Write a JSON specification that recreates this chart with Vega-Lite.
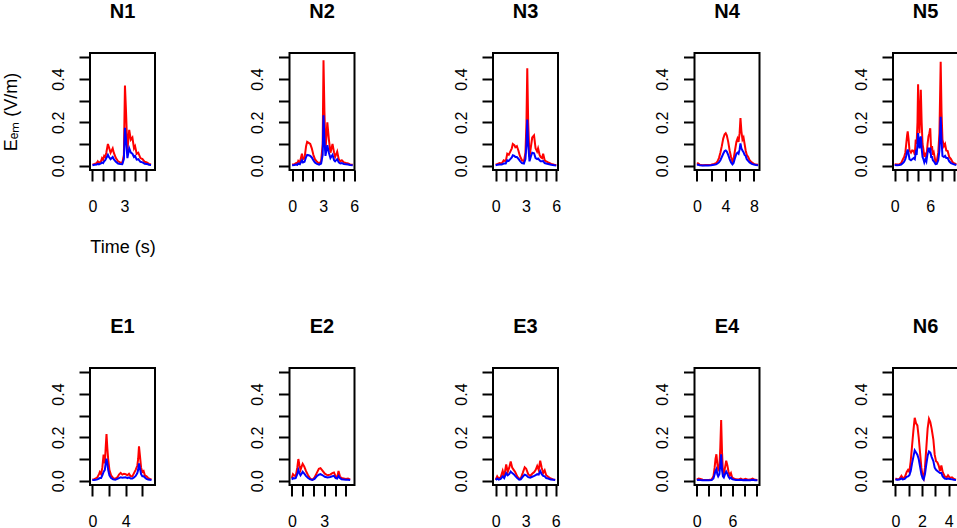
{
"$schema":"https://vega.github.io/schema/vega-lite/v6.json",
"padding":{"left":1,"top":0,"right":0,"bottom":0},
"background":"white",
"datasets":{"d":[
{"p":"N1","t":0,"r":0.005,"b":0.002},{"p":"N1","t":0.2,"r":0.008,"b":0.004},{"p":"N1","t":0.4,"r":0.012,"b":0.005},{"p":"N1","t":0.5,"r":0.02,"b":0.008},{"p":"N1","t":0.6,"r":0.012,"b":0.006},{"p":"N1","t":0.8,"r":0.02,"b":0.01},{"p":"N1","t":0.9,"r":0.035,"b":0.015},{"p":"N1","t":1.0,"r":0.028,"b":0.012},{"p":"N1","t":1.1,"r":0.045,"b":0.02},{"p":"N1","t":1.2,"r":0.04,"b":0.025},{"p":"N1","t":1.3,"r":0.06,"b":0.035},{"p":"N1","t":1.45,"r":0.1,"b":0.05},{"p":"N1","t":1.55,"r":0.085,"b":0.04},{"p":"N1","t":1.7,"r":0.06,"b":0.03},{"p":"N1","t":1.9,"r":0.08,"b":0.04},{"p":"N1","t":2.0,"r":0.06,"b":0.03},{"p":"N1","t":2.2,"r":0.035,"b":0.018},{"p":"N1","t":2.4,"r":0.02,"b":0.01},{"p":"N1","t":2.6,"r":0.015,"b":0.008},{"p":"N1","t":2.8,"r":0.012,"b":0.007},{"p":"N1","t":2.95,"r":0.05,"b":0.03},{"p":"N1","t":3.05,"r":0.37,"b":0.175},{"p":"N1","t":3.15,"r":0.25,"b":0.12},{"p":"N1","t":3.28,"r":0.07,"b":0.035},{"p":"N1","t":3.45,"r":0.165,"b":0.08},{"p":"N1","t":3.6,"r":0.12,"b":0.06},{"p":"N1","t":3.75,"r":0.13,"b":0.055},{"p":"N1","t":3.9,"r":0.08,"b":0.04},{"p":"N1","t":4.0,"r":0.09,"b":0.045},{"p":"N1","t":4.15,"r":0.055,"b":0.028},{"p":"N1","t":4.3,"r":0.06,"b":0.03},{"p":"N1","t":4.5,"r":0.035,"b":0.018},{"p":"N1","t":4.7,"r":0.03,"b":0.015},{"p":"N1","t":4.9,"r":0.018,"b":0.009},{"p":"N1","t":5.1,"r":0.015,"b":0.008},{"p":"N1","t":5.3,"r":0.008,"b":0.004},{"p":"N1","t":5.5,"r":0.006,"b":0.003},
{"p":"N2","t":0,"r":0.005,"b":0.002},{"p":"N2","t":0.2,"r":0.006,"b":0.003},{"p":"N2","t":0.4,"r":0.012,"b":0.005},{"p":"N2","t":0.5,"r":0.008,"b":0.004},{"p":"N2","t":0.6,"r":0.022,"b":0.01},{"p":"N2","t":0.75,"r":0.015,"b":0.007},{"p":"N2","t":0.95,"r":0.055,"b":0.025},{"p":"N2","t":1.05,"r":0.03,"b":0.015},{"p":"N2","t":1.2,"r":0.035,"b":0.018},{"p":"N2","t":1.35,"r":0.09,"b":0.04},{"p":"N2","t":1.45,"r":0.11,"b":0.05},{"p":"N2","t":1.6,"r":0.105,"b":0.048},{"p":"N2","t":1.75,"r":0.1,"b":0.045},{"p":"N2","t":1.9,"r":0.08,"b":0.038},{"p":"N2","t":2.05,"r":0.05,"b":0.025},{"p":"N2","t":2.2,"r":0.03,"b":0.015},{"p":"N2","t":2.4,"r":0.018,"b":0.008},{"p":"N2","t":2.6,"r":0.01,"b":0.005},{"p":"N2","t":2.8,"r":0.02,"b":0.01},{"p":"N2","t":2.95,"r":0.1,"b":0.05},{"p":"N2","t":3.03,"r":0.487,"b":0.233},{"p":"N2","t":3.12,"r":0.25,"b":0.12},{"p":"N2","t":3.22,"r":0.07,"b":0.045},{"p":"N2","t":3.4,"r":0.2,"b":0.095},{"p":"N2","t":3.55,"r":0.12,"b":0.06},{"p":"N2","t":3.7,"r":0.06,"b":0.035},{"p":"N2","t":3.9,"r":0.1,"b":0.05},{"p":"N2","t":4.05,"r":0.06,"b":0.025},{"p":"N2","t":4.15,"r":0.04,"b":0.02},{"p":"N2","t":4.35,"r":0.065,"b":0.03},{"p":"N2","t":4.5,"r":0.03,"b":0.015},{"p":"N2","t":4.65,"r":0.02,"b":0.01},{"p":"N2","t":4.8,"r":0.025,"b":0.012},{"p":"N2","t":5.0,"r":0.015,"b":0.008},{"p":"N2","t":5.2,"r":0.012,"b":0.006},{"p":"N2","t":5.4,"r":0.01,"b":0.005},{"p":"N2","t":5.6,"r":0.006,"b":0.003},{"p":"N2","t":5.85,"r":0.004,"b":0.002},
{"p":"N3","t":0,"r":0.005,"b":0.002},{"p":"N3","t":0.2,"r":0.008,"b":0.004},{"p":"N3","t":0.4,"r":0.012,"b":0.005},{"p":"N3","t":0.6,"r":0.01,"b":0.005},{"p":"N3","t":0.8,"r":0.025,"b":0.01},{"p":"N3","t":1.0,"r":0.02,"b":0.01},{"p":"N3","t":1.15,"r":0.055,"b":0.025},{"p":"N3","t":1.3,"r":0.05,"b":0.022},{"p":"N3","t":1.45,"r":0.065,"b":0.03},{"p":"N3","t":1.6,"r":0.08,"b":0.038},{"p":"N3","t":1.7,"r":0.1,"b":0.048},{"p":"N3","t":1.85,"r":0.095,"b":0.045},{"p":"N3","t":1.95,"r":0.085,"b":0.04},{"p":"N3","t":2.1,"r":0.09,"b":0.04},{"p":"N3","t":2.25,"r":0.07,"b":0.032},{"p":"N3","t":2.4,"r":0.045,"b":0.022},{"p":"N3","t":2.6,"r":0.025,"b":0.012},{"p":"N3","t":2.8,"r":0.02,"b":0.01},{"p":"N3","t":2.95,"r":0.06,"b":0.03},{"p":"N3","t":3.05,"r":0.2,"b":0.1},{"p":"N3","t":3.13,"r":0.45,"b":0.213},{"p":"N3","t":3.22,"r":0.2,"b":0.1},{"p":"N3","t":3.35,"r":0.04,"b":0.02},{"p":"N3","t":3.5,"r":0.09,"b":0.045},{"p":"N3","t":3.62,"r":0.13,"b":0.06},{"p":"N3","t":3.8,"r":0.14,"b":0.057},{"p":"N3","t":3.95,"r":0.08,"b":0.035},{"p":"N3","t":4.1,"r":0.065,"b":0.03},{"p":"N3","t":4.2,"r":0.08,"b":0.033},{"p":"N3","t":4.35,"r":0.05,"b":0.025},{"p":"N3","t":4.45,"r":0.04,"b":0.02},{"p":"N3","t":4.6,"r":0.035,"b":0.02},{"p":"N3","t":4.7,"r":0.055,"b":0.022},{"p":"N3","t":4.85,"r":0.025,"b":0.012},{"p":"N3","t":5.0,"r":0.02,"b":0.01},{"p":"N3","t":5.2,"r":0.015,"b":0.008},{"p":"N3","t":5.5,"r":0.008,"b":0.004},{"p":"N3","t":5.8,"r":0.004,"b":0.002},{"p":"N3","t":6.0,"r":0.003,"b":0.001},
{"p":"N4","t":0,"r":0.011,"b":0.004},{"p":"N4","t":0.2,"r":0.01,"b":0.004},{"p":"N4","t":0.4,"r":0.004,"b":0.002},{"p":"N4","t":0.8,"r":0.002,"b":0.001},{"p":"N4","t":1.2,"r":0.003,"b":0.001},{"p":"N4","t":1.6,"r":0.003,"b":0.001},{"p":"N4","t":2.0,"r":0.004,"b":0.002},{"p":"N4","t":2.4,"r":0.008,"b":0.004},{"p":"N4","t":2.7,"r":0.012,"b":0.006},{"p":"N4","t":2.9,"r":0.02,"b":0.01},{"p":"N4","t":3.1,"r":0.035,"b":0.015},{"p":"N4","t":3.3,"r":0.06,"b":0.025},{"p":"N4","t":3.5,"r":0.09,"b":0.04},{"p":"N4","t":3.7,"r":0.125,"b":0.055},{"p":"N4","t":3.9,"r":0.145,"b":0.068},{"p":"N4","t":4.05,"r":0.15,"b":0.07},{"p":"N4","t":4.2,"r":0.14,"b":0.065},{"p":"N4","t":4.4,"r":0.11,"b":0.05},{"p":"N4","t":4.6,"r":0.07,"b":0.03},{"p":"N4","t":4.8,"r":0.04,"b":0.015},{"p":"N4","t":5.0,"r":0.02,"b":0.006},{"p":"N4","t":5.15,"r":0.03,"b":0.012},{"p":"N4","t":5.35,"r":0.07,"b":0.035},{"p":"N4","t":5.55,"r":0.11,"b":0.055},{"p":"N4","t":5.7,"r":0.125,"b":0.06},{"p":"N4","t":5.85,"r":0.11,"b":0.055},{"p":"N4","t":6.0,"r":0.15,"b":0.075},{"p":"N4","t":6.12,"r":0.22,"b":0.103},{"p":"N4","t":6.25,"r":0.16,"b":0.08},{"p":"N4","t":6.4,"r":0.12,"b":0.07},{"p":"N4","t":6.55,"r":0.13,"b":0.062},{"p":"N4","t":6.7,"r":0.1,"b":0.05},{"p":"N4","t":6.85,"r":0.07,"b":0.045},{"p":"N4","t":7.0,"r":0.05,"b":0.03},{"p":"N4","t":7.2,"r":0.04,"b":0.022},{"p":"N4","t":7.4,"r":0.025,"b":0.015},{"p":"N4","t":7.7,"r":0.015,"b":0.008},{"p":"N4","t":8.0,"r":0.008,"b":0.005},{"p":"N4","t":8.3,"r":0.005,"b":0.003},{"p":"N4","t":8.6,"r":0.004,"b":0.002},
{"p":"N5","t":0,"r":0.006,"b":0.003},{"p":"N5","t":0.4,"r":0.005,"b":0.002},{"p":"N5","t":0.8,"r":0.006,"b":0.003},{"p":"N5","t":1.1,"r":0.012,"b":0.005},{"p":"N5","t":1.4,"r":0.03,"b":0.012},{"p":"N5","t":1.6,"r":0.04,"b":0.018},{"p":"N5","t":1.8,"r":0.06,"b":0.03},{"p":"N5","t":1.95,"r":0.1,"b":0.045},{"p":"N5","t":2.1,"r":0.14,"b":0.065},{"p":"N5","t":2.2,"r":0.158,"b":0.075},{"p":"N5","t":2.35,"r":0.12,"b":0.055},{"p":"N5","t":2.5,"r":0.07,"b":0.03},{"p":"N5","t":2.75,"r":0.06,"b":0.025},{"p":"N5","t":2.95,"r":0.07,"b":0.03},{"p":"N5","t":3.2,"r":0.068,"b":0.035},{"p":"N5","t":3.4,"r":0.05,"b":0.03},{"p":"N5","t":3.55,"r":0.12,"b":0.06},{"p":"N5","t":3.7,"r":0.1,"b":0.05},{"p":"N5","t":3.85,"r":0.2,"b":0.1},{"p":"N5","t":3.95,"r":0.376,"b":0.15},{"p":"N5","t":4.05,"r":0.25,"b":0.12},{"p":"N5","t":4.18,"r":0.15,"b":0.08},{"p":"N5","t":4.3,"r":0.25,"b":0.12},{"p":"N5","t":4.41,"r":0.35,"b":0.135},{"p":"N5","t":4.55,"r":0.2,"b":0.08},{"p":"N5","t":4.7,"r":0.1,"b":0.04},{"p":"N5","t":4.85,"r":0.075,"b":0.03},{"p":"N5","t":5.0,"r":0.04,"b":0.015},{"p":"N5","t":5.2,"r":0.06,"b":0.03},{"p":"N5","t":5.35,"r":0.04,"b":0.02},{"p":"N5","t":5.55,"r":0.1,"b":0.06},{"p":"N5","t":5.7,"r":0.135,"b":0.083},{"p":"N5","t":5.85,"r":0.15,"b":0.07},{"p":"N5","t":6.0,"r":0.173,"b":0.083},{"p":"N5","t":6.15,"r":0.07,"b":0.04},{"p":"N5","t":6.3,"r":0.09,"b":0.04},{"p":"N5","t":6.45,"r":0.05,"b":0.025},{"p":"N5","t":6.6,"r":0.06,"b":0.02},{"p":"N5","t":6.9,"r":0.015,"b":0.007},{"p":"N5","t":7.1,"r":0.02,"b":0.008},{"p":"N5","t":7.35,"r":0.06,"b":0.025},{"p":"N5","t":7.55,"r":0.15,"b":0.07},{"p":"N5","t":7.76,"r":0.48,"b":0.226},{"p":"N5","t":7.9,"r":0.25,"b":0.12},{"p":"N5","t":8.06,"r":0.12,"b":0.045},{"p":"N5","t":8.3,"r":0.09,"b":0.04},{"p":"N5","t":8.5,"r":0.1,"b":0.045},{"p":"N5","t":8.7,"r":0.07,"b":0.035},{"p":"N5","t":8.94,"r":0.068,"b":0.035},{"p":"N5","t":9.2,"r":0.04,"b":0.02},{"p":"N5","t":9.5,"r":0.03,"b":0.012},{"p":"N5","t":9.8,"r":0.015,"b":0.008},{"p":"N5","t":10.1,"r":0.01,"b":0.005},{"p":"N5","t":10.4,"r":0.006,"b":0.003},
{"p":"E1","t":0,"r":0.005,"b":0.003},{"p":"E1","t":0.2,"r":0.006,"b":0.003},{"p":"E1","t":0.4,"r":0.01,"b":0.004},{"p":"E1","t":0.6,"r":0.015,"b":0.006},{"p":"E1","t":0.8,"r":0.03,"b":0.01},{"p":"E1","t":0.9,"r":0.04,"b":0.012},{"p":"E1","t":1.05,"r":0.03,"b":0.012},{"p":"E1","t":1.2,"r":0.06,"b":0.025},{"p":"E1","t":1.35,"r":0.12,"b":0.04},{"p":"E1","t":1.5,"r":0.08,"b":0.05},{"p":"E1","t":1.6,"r":0.15,"b":0.08},{"p":"E1","t":1.7,"r":0.215,"b":0.102},{"p":"E1","t":1.8,"r":0.15,"b":0.08},{"p":"E1","t":1.9,"r":0.1,"b":0.05},{"p":"E1","t":2.05,"r":0.05,"b":0.025},{"p":"E1","t":2.25,"r":0.025,"b":0.012},{"p":"E1","t":2.5,"r":0.012,"b":0.006},{"p":"E1","t":2.75,"r":0.008,"b":0.004},{"p":"E1","t":3.0,"r":0.015,"b":0.008},{"p":"E1","t":3.2,"r":0.028,"b":0.012},{"p":"E1","t":3.4,"r":0.036,"b":0.016},{"p":"E1","t":3.6,"r":0.028,"b":0.014},{"p":"E1","t":3.8,"r":0.032,"b":0.015},{"p":"E1","t":4.0,"r":0.03,"b":0.016},{"p":"E1","t":4.2,"r":0.025,"b":0.012},{"p":"E1","t":4.4,"r":0.032,"b":0.015},{"p":"E1","t":4.6,"r":0.02,"b":0.01},{"p":"E1","t":4.8,"r":0.02,"b":0.01},{"p":"E1","t":5.0,"r":0.035,"b":0.015},{"p":"E1","t":5.2,"r":0.05,"b":0.022},{"p":"E1","t":5.4,"r":0.07,"b":0.035},{"p":"E1","t":5.5,"r":0.1,"b":0.05},{"p":"E1","t":5.6,"r":0.158,"b":0.08},{"p":"E1","t":5.7,"r":0.12,"b":0.06},{"p":"E1","t":5.85,"r":0.06,"b":0.03},{"p":"E1","t":6.0,"r":0.04,"b":0.02},{"p":"E1","t":6.15,"r":0.045,"b":0.02},{"p":"E1","t":6.3,"r":0.025,"b":0.015},{"p":"E1","t":6.5,"r":0.02,"b":0.008},{"p":"E1","t":6.7,"r":0.012,"b":0.005},{"p":"E1","t":6.9,"r":0.008,"b":0.004},{"p":"E1","t":7.1,"r":0.006,"b":0.003},
{"p":"E2","t":0,"r":0.012,"b":0.005},{"p":"E2","t":0.1,"r":0.03,"b":0.012},{"p":"E2","t":0.2,"r":0.025,"b":0.01},{"p":"E2","t":0.35,"r":0.02,"b":0.012},{"p":"E2","t":0.5,"r":0.06,"b":0.03},{"p":"E2","t":0.6,"r":0.1,"b":0.05},{"p":"E2","t":0.7,"r":0.07,"b":0.035},{"p":"E2","t":0.8,"r":0.05,"b":0.025},{"p":"E2","t":0.9,"r":0.065,"b":0.032},{"p":"E2","t":1.0,"r":0.078,"b":0.041},{"p":"E2","t":1.15,"r":0.065,"b":0.032},{"p":"E2","t":1.3,"r":0.045,"b":0.022},{"p":"E2","t":1.5,"r":0.025,"b":0.012},{"p":"E2","t":1.7,"r":0.01,"b":0.006},{"p":"E2","t":1.9,"r":0.004,"b":0.003},{"p":"E2","t":2.1,"r":0.015,"b":0.008},{"p":"E2","t":2.3,"r":0.035,"b":0.02},{"p":"E2","t":2.5,"r":0.055,"b":0.028},{"p":"E2","t":2.65,"r":0.058,"b":0.03},{"p":"E2","t":2.85,"r":0.045,"b":0.025},{"p":"E2","t":3.05,"r":0.032,"b":0.018},{"p":"E2","t":3.3,"r":0.025,"b":0.015},{"p":"E2","t":3.55,"r":0.028,"b":0.017},{"p":"E2","t":3.75,"r":0.035,"b":0.02},{"p":"E2","t":3.9,"r":0.038,"b":0.022},{"p":"E2","t":4.05,"r":0.02,"b":0.012},{"p":"E2","t":4.2,"r":0.015,"b":0.01},{"p":"E2","t":4.32,"r":0.045,"b":0.022},{"p":"E2","t":4.45,"r":0.02,"b":0.012},{"p":"E2","t":4.6,"r":0.012,"b":0.006},{"p":"E2","t":4.8,"r":0.01,"b":0.005},{"p":"E2","t":5.0,"r":0.008,"b":0.004},{"p":"E2","t":5.2,"r":0.01,"b":0.004},{"p":"E2","t":5.4,"r":0.005,"b":0.003},
{"p":"E3","t":0,"r":0.005,"b":0.003},{"p":"E3","t":0.15,"r":0.02,"b":0.01},{"p":"E3","t":0.3,"r":0.01,"b":0.005},{"p":"E3","t":0.5,"r":0.015,"b":0.008},{"p":"E3","t":0.7,"r":0.045,"b":0.02},{"p":"E3","t":0.85,"r":0.02,"b":0.012},{"p":"E3","t":1.05,"r":0.075,"b":0.035},{"p":"E3","t":1.2,"r":0.04,"b":0.025},{"p":"E3","t":1.35,"r":0.06,"b":0.03},{"p":"E3","t":1.5,"r":0.088,"b":0.042},{"p":"E3","t":1.65,"r":0.06,"b":0.035},{"p":"E3","t":1.8,"r":0.05,"b":0.03},{"p":"E3","t":1.95,"r":0.04,"b":0.022},{"p":"E3","t":2.15,"r":0.02,"b":0.012},{"p":"E3","t":2.35,"r":0.008,"b":0.005},{"p":"E3","t":2.5,"r":0.01,"b":0.006},{"p":"E3","t":2.7,"r":0.035,"b":0.018},{"p":"E3","t":2.9,"r":0.062,"b":0.028},{"p":"E3","t":3.05,"r":0.055,"b":0.025},{"p":"E3","t":3.25,"r":0.03,"b":0.016},{"p":"E3","t":3.45,"r":0.022,"b":0.014},{"p":"E3","t":3.65,"r":0.032,"b":0.018},{"p":"E3","t":3.85,"r":0.04,"b":0.022},{"p":"E3","t":4.0,"r":0.05,"b":0.026},{"p":"E3","t":4.15,"r":0.068,"b":0.03},{"p":"E3","t":4.3,"r":0.05,"b":0.028},{"p":"E3","t":4.45,"r":0.092,"b":0.045},{"p":"E3","t":4.6,"r":0.06,"b":0.03},{"p":"E3","t":4.75,"r":0.035,"b":0.022},{"p":"E3","t":4.9,"r":0.048,"b":0.02},{"p":"E3","t":5.05,"r":0.025,"b":0.012},{"p":"E3","t":5.25,"r":0.018,"b":0.01},{"p":"E3","t":5.5,"r":0.01,"b":0.005},{"p":"E3","t":5.75,"r":0.006,"b":0.004},{"p":"E3","t":5.95,"r":0.004,"b":0.003},
{"p":"E4","t":0,"r":0.005,"b":0.003},{"p":"E4","t":0.3,"r":0.01,"b":0.004},{"p":"E4","t":0.6,"r":0.008,"b":0.003},{"p":"E4","t":1.0,"r":0.004,"b":0.002},{"p":"E4","t":1.5,"r":0.003,"b":0.002},{"p":"E4","t":2.0,"r":0.003,"b":0.002},{"p":"E4","t":2.5,"r":0.005,"b":0.003},{"p":"E4","t":2.8,"r":0.02,"b":0.01},{"p":"E4","t":3.0,"r":0.06,"b":0.03},{"p":"E4","t":3.15,"r":0.1,"b":0.045},{"p":"E4","t":3.3,"r":0.122,"b":0.053},{"p":"E4","t":3.45,"r":0.08,"b":0.03},{"p":"E4","t":3.6,"r":0.05,"b":0.02},{"p":"E4","t":3.8,"r":0.06,"b":0.03},{"p":"E4","t":3.95,"r":0.15,"b":0.07},{"p":"E4","t":4.1,"r":0.28,"b":0.122},{"p":"E4","t":4.25,"r":0.13,"b":0.05},{"p":"E4","t":4.4,"r":0.04,"b":0.02},{"p":"E4","t":4.55,"r":0.03,"b":0.015},{"p":"E4","t":4.75,"r":0.06,"b":0.03},{"p":"E4","t":4.95,"r":0.092,"b":0.042},{"p":"E4","t":5.15,"r":0.07,"b":0.032},{"p":"E4","t":5.35,"r":0.04,"b":0.018},{"p":"E4","t":5.55,"r":0.025,"b":0.01},{"p":"E4","t":5.75,"r":0.035,"b":0.015},{"p":"E4","t":5.95,"r":0.015,"b":0.007},{"p":"E4","t":6.2,"r":0.01,"b":0.005},{"p":"E4","t":6.6,"r":0.006,"b":0.003},{"p":"E4","t":7.0,"r":0.005,"b":0.003},{"p":"E4","t":7.4,"r":0.01,"b":0.004},{"p":"E4","t":7.8,"r":0.004,"b":0.002},{"p":"E4","t":8.2,"r":0.008,"b":0.003},{"p":"E4","t":8.6,"r":0.004,"b":0.002},{"p":"E4","t":9.0,"r":0.005,"b":0.002},{"p":"E4","t":9.4,"r":0.01,"b":0.004},{"p":"E4","t":9.8,"r":0.004,"b":0.002},{"p":"E4","t":10.2,"r":0.003,"b":0.002},
{"p":"N6","t":0,"r":0.01,"b":0.005},{"p":"N6","t":0.15,"r":0.006,"b":0.004},{"p":"N6","t":0.3,"r":0.008,"b":0.005},{"p":"N6","t":0.45,"r":0.022,"b":0.01},{"p":"N6","t":0.55,"r":0.012,"b":0.006},{"p":"N6","t":0.7,"r":0.015,"b":0.008},{"p":"N6","t":0.85,"r":0.04,"b":0.018},{"p":"N6","t":0.95,"r":0.05,"b":0.02},{"p":"N6","t":1.05,"r":0.04,"b":0.025},{"p":"N6","t":1.15,"r":0.09,"b":0.045},{"p":"N6","t":1.25,"r":0.16,"b":0.08},{"p":"N6","t":1.35,"r":0.23,"b":0.11},{"p":"N6","t":1.45,"r":0.29,"b":0.14},{"p":"N6","t":1.55,"r":0.265,"b":0.13},{"p":"N6","t":1.65,"r":0.255,"b":0.12},{"p":"N6","t":1.75,"r":0.2,"b":0.1},{"p":"N6","t":1.85,"r":0.13,"b":0.065},{"p":"N6","t":1.95,"r":0.06,"b":0.03},{"p":"N6","t":2.05,"r":0.02,"b":0.01},{"p":"N6","t":2.12,"r":0.01,"b":0.005},{"p":"N6","t":2.22,"r":0.06,"b":0.03},{"p":"N6","t":2.32,"r":0.15,"b":0.075},{"p":"N6","t":2.42,"r":0.24,"b":0.115},{"p":"N6","t":2.52,"r":0.285,"b":0.135},{"p":"N6","t":2.62,"r":0.27,"b":0.13},{"p":"N6","t":2.72,"r":0.24,"b":0.11},{"p":"N6","t":2.85,"r":0.19,"b":0.09},{"p":"N6","t":2.95,"r":0.12,"b":0.06},{"p":"N6","t":3.05,"r":0.09,"b":0.05},{"p":"N6","t":3.15,"r":0.085,"b":0.045},{"p":"N6","t":3.25,"r":0.07,"b":0.04},{"p":"N6","t":3.35,"r":0.045,"b":0.035},{"p":"N6","t":3.45,"r":0.07,"b":0.035},{"p":"N6","t":3.55,"r":0.04,"b":0.02},{"p":"N6","t":3.7,"r":0.02,"b":0.01},{"p":"N6","t":3.85,"r":0.015,"b":0.008},{"p":"N6","t":3.95,"r":0.025,"b":0.01},{"p":"N6","t":4.1,"r":0.012,"b":0.008},{"p":"N6","t":4.25,"r":0.015,"b":0.006},{"p":"N6","t":4.4,"r":0.008,"b":0.004},{"p":"N6","t":4.55,"r":0.005,"b":0.003}
]},
"data":{"name":"d"},
"columns":5,
"spacing":{"column":43.5,"row":58},
"concat":[
{"title":"N1","width":65,"height":117,
 "transform":[{"filter":"datum.p=='N1'"},{"fold":["r","b"],"as":["s","v"]}],
 "encoding":{
  "x":{"field":"t","type":"quantitative","scale":{"domain":[-0.23,5.87],"nice":false,"zero":false},"axis":{"values":[0,1,2,3,4,5],"labelExpr":"datum.value==0||datum.value==3?datum.label:''","title":"Time (s)"}},
  "y":{"field":"v","type":"quantitative","scale":{"domain":[-0.02,0.52],"nice":false,"zero":false},"axis":{"values":[0,0.1,0.2,0.3,0.4,0.5],"format":".1f","labelExpr":"datum.value==0||datum.value==0.2||datum.value==0.4?datum.label:''","title":"Eₑₘ (V/m)"}}},
 "layer":[{"transform":[{"filter":"datum.s=='r'"}],"mark":{"type":"line","color":"#ff0000","strokeWidth":2,"clip":true}},{"transform":[{"filter":"datum.s=='b'"}],"mark":{"type":"line","color":"#0000ff","strokeWidth":2,"clip":true}}]},
{"title":"N2","width":65,"height":117,
 "transform":[{"filter":"datum.p=='N2'"},{"fold":["r","b"],"as":["s","v"]}],
 "encoding":{
  "x":{"field":"t","type":"quantitative","scale":{"domain":[-0.25,6.02],"nice":false,"zero":false},"axis":{"values":[0,1,2,3,4,5,6],"labelExpr":"datum.value==0||datum.value==3||datum.value==6?datum.label:''","title":" "}},
  "y":{"field":"v","type":"quantitative","scale":{"domain":[-0.02,0.52],"nice":false,"zero":false},"axis":{"values":[0,0.1,0.2,0.3,0.4,0.5],"format":".1f","labelExpr":"datum.value==0||datum.value==0.2||datum.value==0.4?datum.label:''","title":" "}}},
 "layer":[{"transform":[{"filter":"datum.s=='r'"}],"mark":{"type":"line","color":"#ff0000","strokeWidth":2,"clip":true}},{"transform":[{"filter":"datum.s=='b'"}],"mark":{"type":"line","color":"#0000ff","strokeWidth":2,"clip":true}}]},
{"title":"N3","width":65,"height":117,
 "transform":[{"filter":"datum.p=='N3'"},{"fold":["r","b"],"as":["s","v"]}],
 "encoding":{
  "x":{"field":"t","type":"quantitative","scale":{"domain":[-0.26,6.17],"nice":false,"zero":false},"axis":{"values":[0,1,2,3,4,5,6],"labelExpr":"datum.value==0||datum.value==3||datum.value==6?datum.label:''","title":" "}},
  "y":{"field":"v","type":"quantitative","scale":{"domain":[-0.02,0.52],"nice":false,"zero":false},"axis":{"values":[0,0.1,0.2,0.3,0.4,0.5],"format":".1f","labelExpr":"datum.value==0||datum.value==0.2||datum.value==0.4?datum.label:''","title":" "}}},
 "layer":[{"transform":[{"filter":"datum.s=='r'"}],"mark":{"type":"line","color":"#ff0000","strokeWidth":2,"clip":true}},{"transform":[{"filter":"datum.s=='b'"}],"mark":{"type":"line","color":"#0000ff","strokeWidth":2,"clip":true}}]},
{"title":"N4","width":65,"height":117,
 "transform":[{"filter":"datum.p=='N4'"},{"fold":["r","b"],"as":["s","v"]}],
 "encoding":{
  "x":{"field":"t","type":"quantitative","scale":{"domain":[-0.33,8.79],"nice":false,"zero":false},"axis":{"values":[0,2,4,6,8],"labelExpr":"datum.value==0||datum.value==4||datum.value==8?datum.label:''","title":" "}},
  "y":{"field":"v","type":"quantitative","scale":{"domain":[-0.02,0.52],"nice":false,"zero":false},"axis":{"values":[0,0.1,0.2,0.3,0.4,0.5],"format":".1f","labelExpr":"datum.value==0||datum.value==0.2||datum.value==0.4?datum.label:''","title":" "}}},
 "layer":[{"transform":[{"filter":"datum.s=='r'"}],"mark":{"type":"line","color":"#ff0000","strokeWidth":2,"clip":true}},{"transform":[{"filter":"datum.s=='b'"}],"mark":{"type":"line","color":"#0000ff","strokeWidth":2,"clip":true}}]},
{"title":"N5","width":65,"height":117,
 "transform":[{"filter":"datum.p=='N5'"},{"fold":["r","b"],"as":["s","v"]}],
 "encoding":{
  "x":{"field":"t","type":"quantitative","scale":{"domain":[-0.28,10.68],"nice":false,"zero":false},"axis":{"values":[0,2,4,6,8,10],"labelExpr":"datum.value==0||datum.value==6?datum.label:''","title":" "}},
  "y":{"field":"v","type":"quantitative","scale":{"domain":[-0.02,0.52],"nice":false,"zero":false},"axis":{"values":[0,0.1,0.2,0.3,0.4,0.5],"format":".1f","labelExpr":"datum.value==0||datum.value==0.2||datum.value==0.4?datum.label:''","title":" "}}},
 "layer":[{"transform":[{"filter":"datum.s=='r'"}],"mark":{"type":"line","color":"#ff0000","strokeWidth":2,"clip":true}},{"transform":[{"filter":"datum.s=='b'"}],"mark":{"type":"line","color":"#0000ff","strokeWidth":2,"clip":true}}]},
{"title":"E1","width":65,"height":117,
 "transform":[{"filter":"datum.p=='E1'"},{"fold":["r","b"],"as":["s","v"]}],
 "encoding":{
  "x":{"field":"t","type":"quantitative","scale":{"domain":[-0.28,7.52],"nice":false,"zero":false},"axis":{"values":[0,2,4,6],"labelExpr":"datum.value==0||datum.value==4?datum.label:''","title":" "}},
  "y":{"field":"v","type":"quantitative","scale":{"domain":[-0.02,0.52],"nice":false,"zero":false},"axis":{"values":[0,0.1,0.2,0.3,0.4,0.5],"format":".1f","labelExpr":"datum.value==0||datum.value==0.2||datum.value==0.4?datum.label:''","title":" "}}},
 "layer":[{"transform":[{"filter":"datum.s=='r'"}],"mark":{"type":"line","color":"#ff0000","strokeWidth":2,"clip":true}},{"transform":[{"filter":"datum.s=='b'"}],"mark":{"type":"line","color":"#0000ff","strokeWidth":2,"clip":true}}]},
{"title":"E2","width":65,"height":117,
 "transform":[{"filter":"datum.p=='E2'"},{"fold":["r","b"],"as":["s","v"]}],
 "encoding":{
  "x":{"field":"t","type":"quantitative","scale":{"domain":[-0.22,5.8],"nice":false,"zero":false},"axis":{"values":[0,1,2,3,4,5],"labelExpr":"datum.value==0||datum.value==3?datum.label:''","title":" "}},
  "y":{"field":"v","type":"quantitative","scale":{"domain":[-0.02,0.52],"nice":false,"zero":false},"axis":{"values":[0,0.1,0.2,0.3,0.4,0.5],"format":".1f","labelExpr":"datum.value==0||datum.value==0.2||datum.value==0.4?datum.label:''","title":" "}}},
 "layer":[{"transform":[{"filter":"datum.s=='r'"}],"mark":{"type":"line","color":"#ff0000","strokeWidth":2,"clip":true}},{"transform":[{"filter":"datum.s=='b'"}],"mark":{"type":"line","color":"#0000ff","strokeWidth":2,"clip":true}}]},
{"title":"E3","width":65,"height":117,
 "transform":[{"filter":"datum.p=='E3'"},{"fold":["r","b"],"as":["s","v"]}],
 "encoding":{
  "x":{"field":"t","type":"quantitative","scale":{"domain":[-0.27,6.23],"nice":false,"zero":false},"axis":{"values":[0,1,2,3,4,5,6],"labelExpr":"datum.value==0||datum.value==3||datum.value==6?datum.label:''","title":" "}},
  "y":{"field":"v","type":"quantitative","scale":{"domain":[-0.02,0.52],"nice":false,"zero":false},"axis":{"values":[0,0.1,0.2,0.3,0.4,0.5],"format":".1f","labelExpr":"datum.value==0||datum.value==0.2||datum.value==0.4?datum.label:''","title":" "}}},
 "layer":[{"transform":[{"filter":"datum.s=='r'"}],"mark":{"type":"line","color":"#ff0000","strokeWidth":2,"clip":true}},{"transform":[{"filter":"datum.s=='b'"}],"mark":{"type":"line","color":"#0000ff","strokeWidth":2,"clip":true}}]},
{"title":"E4","width":65,"height":117,
 "transform":[{"filter":"datum.p=='E4'"},{"fold":["r","b"],"as":["s","v"]}],
 "encoding":{
  "x":{"field":"t","type":"quantitative","scale":{"domain":[-0.39,10.56],"nice":false,"zero":false},"axis":{"values":[0,2,4,6,8,10],"labelExpr":"datum.value==0||datum.value==6?datum.label:''","title":" "}},
  "y":{"field":"v","type":"quantitative","scale":{"domain":[-0.02,0.52],"nice":false,"zero":false},"axis":{"values":[0,0.1,0.2,0.3,0.4,0.5],"format":".1f","labelExpr":"datum.value==0||datum.value==0.2||datum.value==0.4?datum.label:''","title":" "}}},
 "layer":[{"transform":[{"filter":"datum.s=='r'"}],"mark":{"type":"line","color":"#ff0000","strokeWidth":2,"clip":true}},{"transform":[{"filter":"datum.s=='b'"}],"mark":{"type":"line","color":"#0000ff","strokeWidth":2,"clip":true}}]},
{"title":"N6","width":65,"height":117,
 "transform":[{"filter":"datum.p=='N6'"},{"fold":["r","b"],"as":["s","v"]}],
 "encoding":{
  "x":{"field":"t","type":"quantitative","scale":{"domain":[-0.18,4.7],"nice":false,"zero":false},"axis":{"values":[0,1,2,3,4],"labelExpr":"datum.value==0||datum.value==2||datum.value==4?datum.label:''","title":" "}},
  "y":{"field":"v","type":"quantitative","scale":{"domain":[-0.02,0.52],"nice":false,"zero":false},"axis":{"values":[0,0.1,0.2,0.3,0.4,0.5],"format":".1f","labelExpr":"datum.value==0||datum.value==0.2||datum.value==0.4?datum.label:''","title":" "}}},
 "layer":[{"transform":[{"filter":"datum.s=='r'"}],"mark":{"type":"line","color":"#ff0000","strokeWidth":2,"clip":true}},{"transform":[{"filter":"datum.s=='b'"}],"mark":{"type":"line","color":"#0000ff","strokeWidth":2,"clip":true}}]}
],
"config":{
 "view":{"stroke":"#000000","strokeWidth":2},
 "axis":{"grid":false,"domain":false,"ticks":true,"tickColor":"#000000","tickWidth":2,"tickSize":11,"labelColor":"#000000","labelFont":"Liberation Sans","labelFontSize":16,"titleFont":"Liberation Sans","titleFontSize":18,"titleFontWeight":"normal","titleColor":"#000000","labelOverlap":false,"labelFlush":false,"labelBound":false},
 "axisX":{"labelPadding":17,"titlePadding":24,"labelBaseline":"top"},
 "axisY":{"labelAngle":270,"labelAlign":"center","labelBaseline":"middle","labelPadding":21,"titlePadding":29.5},
 "title":{"font":"Liberation Sans","fontSize":20,"fontWeight":"bold","color":"#000000","frame":"group","anchor":"middle","baseline":"alphabetic","offset":31.5}
}
}
